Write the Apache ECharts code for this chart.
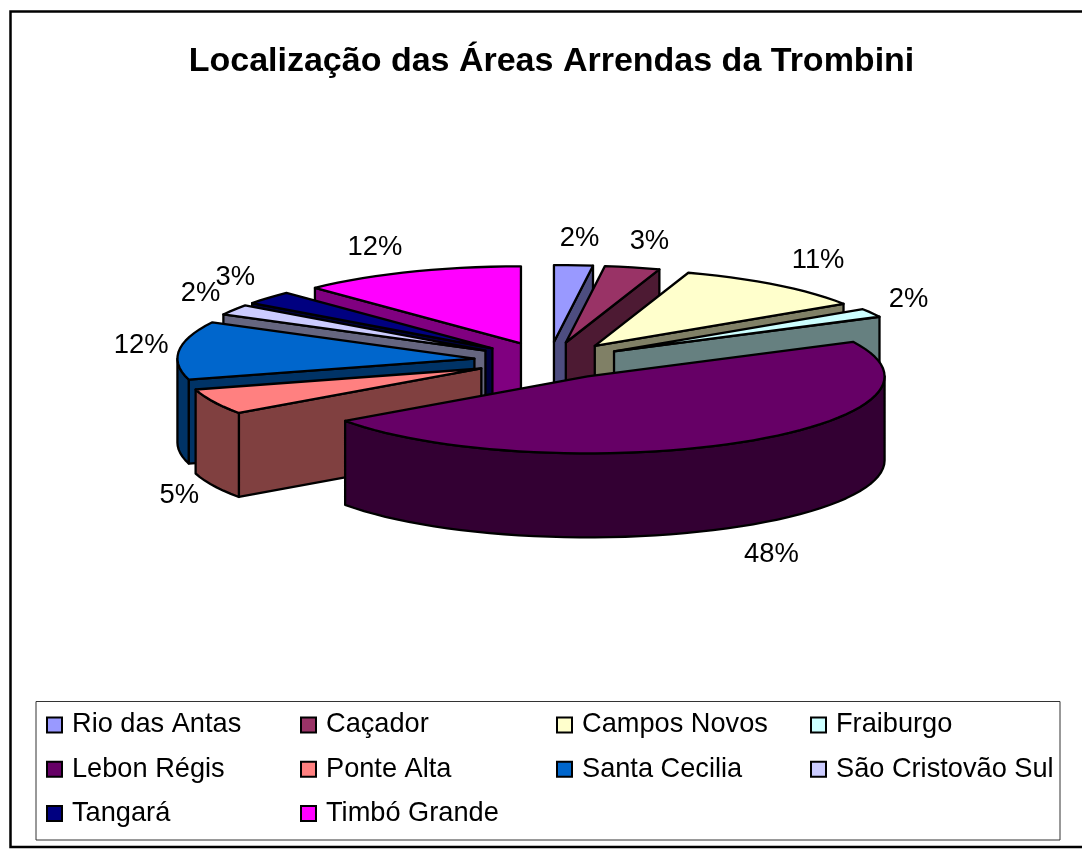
<!DOCTYPE html>
<html><head><meta charset="utf-8">
<style>html,body{margin:0;padding:0;background:#fff}#c{width:1082px;height:857px}</style>
<script src="https://cdn.jsdelivr.net/npm/echarts@6/dist/echarts.min.js"></script>
</head><body><div id="c"></div>
<script>
const regions = ['Rio das Antas','Caçador','Campos Novos','Fraiburgo','Lebon Régis','Ponte Alta','Santa Cecilia','São Cristovão Sul','Tangará','Timbó Grande'];
const shares = [2.1,3.0,10.7,1.8,47.6,5.4,12.2,2.2,2.8,12.2];
const topColors = ['#9999FF','#993366','#FFFFCC','#CCFFFF','#660066','#FF8080','#0066CC','#CCCCFF','#000080','#FF00FF'];
const sideColors = ['#4D4D80','#4D1A33','#808066','#668080','#330033','#804040','#003366','#666680','#000040','#800080'];
const titleText = 'Localização das Áreas Arrendas da Trombini';

// layout of the tilted pie
const cx = 549, cy = 360.5, rx = 297, ry = 77, depth = 84, blastX = 75, blastY = 18.5;
const labelShift = [[6,-27],[17,-26],[42,-24],[37,-13],[31,112],[-34,94],[-38,-5],[-33,-16],[-33,-20],[-35,-24]];
const legendRows = [[0,4,8],[1,5,9],[2,6],[3,7]];
const legendLeft = [46,300,556,810];

const total = shares.reduce((a,b)=>a+b,0);
const rad = d => d*Math.PI/180;
let run = 0;
const spans = shares.map(v => { const s = run/total*360; run += v; return [s, run/total*360]; });
const mids = spans.map(s => (s[0]+s[1])/2);
const order = mids.map((m,i)=>[Math.cos(rad(m)),i]).sort((a,b)=>b[0]-a[0]).map(p=>p[1]);

function sliceShapes(i, value, api){
  const [a0,a1] = spans[i];
  const m = rad(mids[i]);
  const ax = cx + blastX*Math.sin(m), ay = cy - blastY*Math.cos(m);
  const pt = (d,dz=0) => [ax + rx*Math.sin(rad(d)), ay - ry*Math.cos(rad(d)) + dz];
  const arc = (s,e,dz=0) => { const n = Math.max(2,Math.ceil((e-s)/3)); const r=[]; for(let k=0;k<=n;k++) r.push(pt(s+(e-s)*k/n,dz)); return r; };
  const edge = {stroke:'#000',lineWidth:2.3,lineJoin:'round'};
  const poly = (points,fill) => ({type:'polygon',shape:{points},style:{fill,...edge}});
  const kids = [];
  const side = sideColors[i];
  const face = d => poly([[ax,ay],pt(d),pt(d,depth),[ax,ay+depth]],side);
  if (Math.sin(rad(a0))<0) kids.push(face(a0));
  if (Math.sin(rad(a1))>0) kids.push(face(a1));
  const fs = Math.max(a0,90), fe = Math.min(a1,270);
  if (fe>fs) kids.push(poly(arc(fs,fe).concat(arc(fs,fe,depth).reverse()),side));
  kids.push(poly([[ax,ay]].concat(arc(a0,a1)),topColors[i]));
  const lx = cx + (rx+blastX)*Math.sin(m) + labelShift[i][0];
  const ly = cy - (ry+blastY)*Math.cos(m) + labelShift[i][1];
  kids.push({type:'text',z2:50,style:{x:lx,y:ly,text:Math.round(value/total*100)+'%',align:'center',verticalAlign:'middle',fill:'#000',font:'27.4px "Liberation Sans", Arial, sans-serif'}});
  return {type:'group',children:kids};
}

const series = regions.map((name,i)=>({
  type:'custom', name, coordinateSystem:'none', silent:true, animation:false,
  z: 5+order.indexOf(i),
  itemStyle:{color:topColors[i]},
  data:[[shares[i]]],
  renderItem:(p,api)=>sliceShapes(i,api.value(0),api)
}));

const legends = legendRows.map((idx,c)=>({
  orient:'vertical', left:legendLeft[c], top:711.5, padding:0, itemGap:17.2, itemWidth:15, itemHeight:15,
  icon:'rect', selectedMode:false, data:idx.map(k=>regions[k]), z:20,
  itemStyle:{borderColor:'#000',borderWidth:2},
  textStyle:{fontFamily:'"Liberation Sans", Arial, sans-serif',fontSize:27.2,color:'#000',padding:[0,0,3,5]}
}));

const chart = echarts.init(document.getElementById('c'),null,{renderer:'canvas'});
chart.setOption({
  animation:false, backgroundColor:'#fff',
  title:{text:titleText,left:551.5,top:45,textAlign:'center',padding:0,textStyle:{fontFamily:'"Liberation Sans", Arial, sans-serif',fontSize:34,fontWeight:'bold',color:'#000'}},
  legend:legends,
  graphic:[
    {type:'rect',z:-1,shape:{x:10.5,y:11.5,width:1080,height:835.5},style:{fill:'#fff',stroke:'#000',lineWidth:2.5}},
    {type:'rect',z:-1,shape:{x:36,y:701.5,width:1024,height:138.5},style:{fill:'#fff',stroke:'#333',lineWidth:1}}
  ],
  series
});
</script></body></html>
